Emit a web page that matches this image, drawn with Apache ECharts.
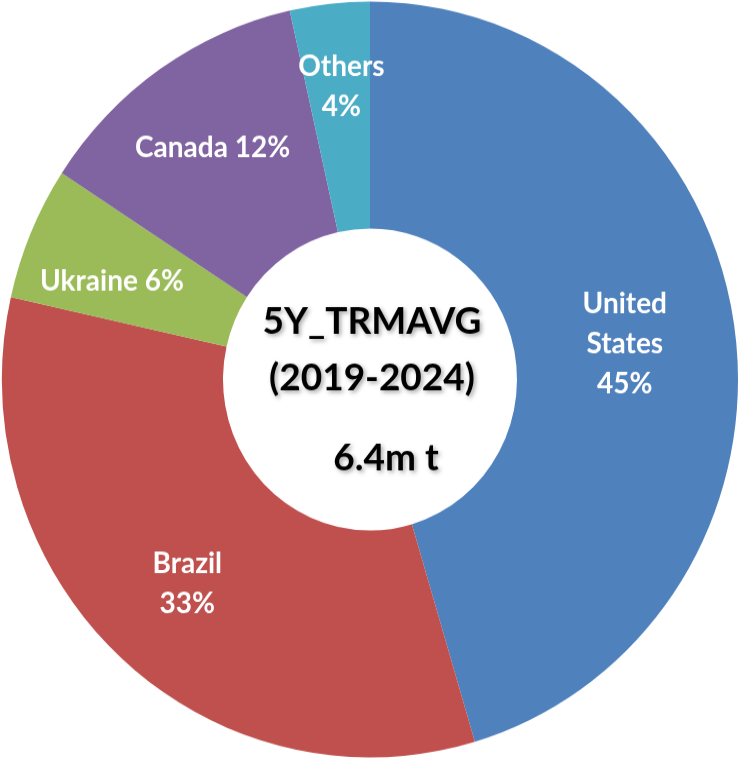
<!DOCTYPE html>
<html>
<head>
<meta charset="utf-8">
<script src="https://cdn.jsdelivr.net/npm/echarts@6/dist/echarts.min.js"></script>
<style>
html, body { margin: 0; padding: 0; background: #fff; }
body { width: 739px; height: 759px; }
/* the original pie is slightly taller than wide, so stretch the square chart a bit */
#chart { width: 739px; height: 739px; transform: scaleY(1.027); transform-origin: 0 0; }
</style>
</head>
<body>
<div id="chart"></div>
<script>
// share of 5Y average (%)
var countries = ['United States', 'Brazil', 'Ukraine', 'Canada', 'Others'];
var shares = [45.4, 33.1, 5.7, 12.3, 3.5];
var colors = ['#4F81BD', '#C0504D', '#9BBB59', '#8064A2', '#4BACC6'];
var wrapName = [true, true, false, false, true];
var labelOffsets = [[-3, 3], [-5, 9], [-18, 6], [-9, -11], [0, -26]];
var centerTitle = ['5Y_TRMAVG', '(2019-2024)'];
var centerTotal = '6.4m t';

var chart = echarts.init(document.getElementById('chart'));

var pieData = countries.map(function (c, i) {
	return {
		name: c,
		value: shares[i],
		itemStyle: { color: colors[i] },
		label: { offset: labelOffsets[i] }
	};
});

var shadow = {
	textShadowColor: 'rgba(0,0,0,0.35)',
	textShadowBlur: 4,
	textShadowOffsetX: 2,
	textShadowOffsetY: 2
};

chart.setOption({
	animation: false,
	backgroundColor: '#fff',
	series: [{
		type: 'pie',
		center: [370, 369.5],
		radius: [147, 368],
		startAngle: 90,
		clockwise: true,
		percentPrecision: 0,
		avoidLabelOverlap: false,
		emphasis: { disabled: true },
		itemStyle: { borderWidth: 0 },
		label: {
			show: true,
			position: 'inside',
			color: '#fff',
			fontFamily: 'Lato',
			fontWeight: 'bold',
			fontSize: 28,
			lineHeight: 39,
			formatter: function (p) {
				var i = p.dataIndex;
				var n = wrapName[i] ? p.name.replace(' ', '\n') + '\n' : p.name + ' ';
				return n + p.percent + '%';
			}
		},
		labelLine: { show: false },
		data: pieData
	}],
	graphic: [{
		type: 'text',
		x: 372,
		y: 286,
		style: Object.assign({
			text: centerTitle.join('\n'),
			fill: '#000',
			font: 'bold 37px Lato',
			lineHeight: 54.5,
			align: 'center',
			verticalAlign: 'top'
		}, shadow)
	}, {
		type: 'text',
		x: 386,
		y: 428,
		style: Object.assign({
			text: centerTotal,
			fill: '#000',
			font: 'bold 37px Lato',
			align: 'center',
			verticalAlign: 'top'
		}, shadow)
	}]
});
</script>
</body>
</html>
